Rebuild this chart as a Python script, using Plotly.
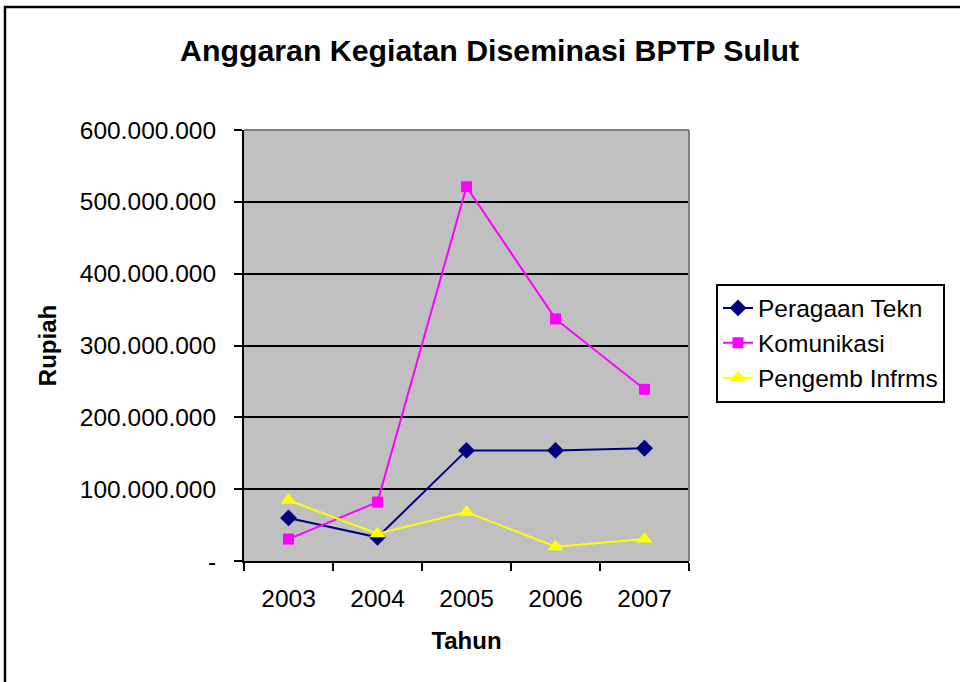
import plotly.graph_objects as go

years = ["2003", "2004", "2005", "2006", "2007"]
peragaan = [60_000_000, 33_000_000, 154_000_000, 154_000_000, 157_000_000]
komunikasi = [30_500_000, 82_000_000, 521_000_000, 337_000_000, 239_000_000]
pengemb = [84_500_000, 38_000_000, 68_000_000, 20_000_000, 30_500_000]
ytickvals = [0, 100_000_000, 200_000_000, 300_000_000, 400_000_000, 500_000_000, 600_000_000]
yticktext = ["-", "100.000.000", "200.000.000", "300.000.000", "400.000.000", "500.000.000", "600.000.000"]

FONT = "Liberation Sans, Arial, sans-serif"
L, R, T, B = 244, 689, 130, 561
W, H = 960, 682

def px_x(p):
    return (p - L) / (R - L)

def px_y(p):
    return (B - p) / (B - T)

fig = go.Figure()
fig.add_trace(go.Scatter(x=years, y=peragaan, name="Peragaan Tekn", mode="lines+markers",
                         line=dict(color="#000080", width=2),
                         marker=dict(symbol="diamond", size=13, color="#000080")))
fig.add_trace(go.Scatter(x=years, y=komunikasi, name="Komunikasi", mode="lines+markers",
                         line=dict(color="#FF00FF", width=2),
                         marker=dict(symbol="square", size=11, color="#FF00FF")))
fig.add_trace(go.Scatter(x=years, y=pengemb, name="Pengemb Infrms", mode="lines+markers",
                         line=dict(color="#FFFF00", width=2),
                         marker=dict(symbol="triangle-up", size=14, color="#FFFF00")))

fig.update_layout(
    width=W, height=H,
    margin=dict(l=L, r=W - R, t=T, b=H - B, autoexpand=False),
    paper_bgcolor="white", plot_bgcolor="#C0C0C0",
    font=dict(family=FONT, color="black", size=24.5),
    showlegend=True,
    legend=dict(x=px_x(716), y=px_y(343), xanchor="left", yanchor="middle",
                bgcolor="white", bordercolor="black", borderwidth=2,
                font=dict(size=24.5, family=FONT), tracegroupgap=0, entrywidth=215),
    annotations=[
        dict(text="<b>Anggaran Kegiatan Diseminasi BPTP Sulut</b>", x=px_x(489), y=px_y(50),
             xref="paper", yref="paper", showarrow=False, font=dict(size=30.3, family=FONT),
             xanchor="center", yanchor="middle"),
    ],
    shapes=[
        dict(type="line", xref="paper", yref="paper", x0=0, x1=1, y0=1, y1=1,
             line=dict(color="#808080", width=2), layer="above"),
        dict(type="line", xref="paper", yref="paper", x0=1, x1=1, y0=0, y1=1,
             line=dict(color="#808080", width=2), layer="above"),
        dict(type="rect", xref="paper", yref="paper", x0=px_x(5), x1=px_x(970),
             y0=px_y(700), y1=px_y(7), line=dict(color="black", width=2.5), layer="below"),
    ],
)

fig.update_xaxes(
    type="category", range=[-0.5, 4.5], tickson="boundaries", ticks="outside", ticklen=8,
    tickwidth=1.5, tickcolor="black", showline=True, linecolor="black", linewidth=2,
    showgrid=False, tickfont=dict(size=24.5, family=FONT), ticklabelstandoff=15,
    automargin=False,
    title=dict(text="<b>Tahun</b>", font=dict(size=24, family=FONT), standoff=21),
)
fig.update_yaxes(
    range=[0, 600_000_000], tickvals=ytickvals, ticktext=yticktext,
    ticks="outside", ticklen=8, tickwidth=1.5, tickcolor="black",
    showline=True, linecolor="black", linewidth=2,
    showgrid=True, gridcolor="black", gridwidth=1.5, zeroline=False,
    tickfont=dict(size=24.5, family=FONT), ticklabelstandoff=13, automargin=False,
    title=dict(text="<b>Rupiah</b>", font=dict(size=24, family=FONT), standoff=16),
)

fig.write_html("out.html", config={"displayModeBar": False},
               post_script="document.body.style.margin='0';document.body.style.overflow='hidden';")
